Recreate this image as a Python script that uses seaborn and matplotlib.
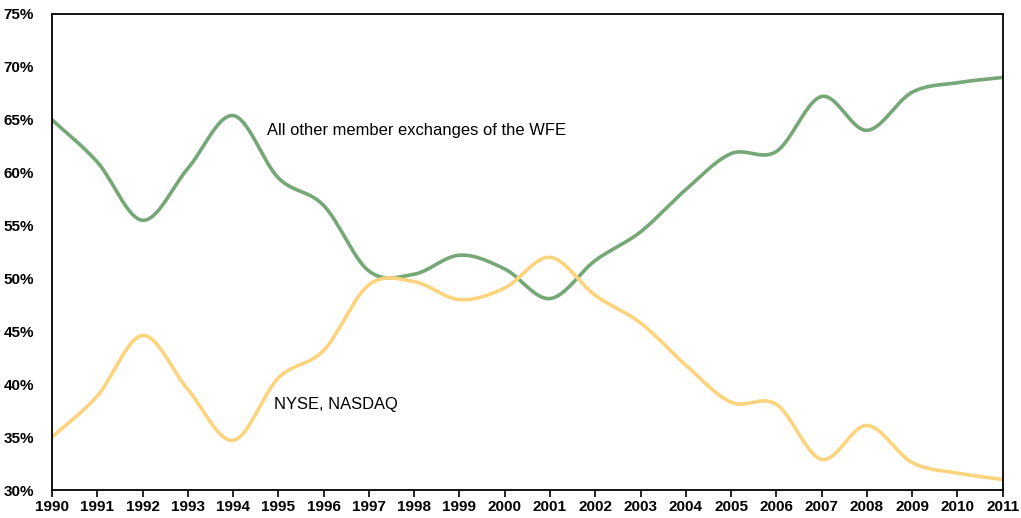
import numpy as np
import pandas as pd
import matplotlib.pyplot as plt
import matplotlib.ticker as mticker
import seaborn as sns

years = list(range(1990, 2012))
other_wfe = [65.0, 61.0, 55.5, 60.4, 65.4, 59.5, 56.9, 50.7, 50.4, 52.2, 50.9,
             48.1, 51.7, 54.4, 58.4, 61.8, 62.0, 67.2, 64.0, 67.6, 68.5, 69.0]
nyse_nasdaq = [35.0, 38.9, 44.6, 39.5, 34.7, 40.6, 43.2, 49.4, 49.7, 48.0, 49.1,
               52.0, 48.4, 45.8, 41.8, 38.3, 38.1, 32.9, 36.1, 32.6, 31.6, 31.0]

labels = ['All other member exchanges of the WFE', 'NYSE, NASDAQ']
colors = ['#76a776', '#fdd47e']


def smooth(x, y, n=40):
    # Catmull-Rom style smoothing like Excel's smoothed line
    x = np.asarray(x, float)
    y = np.asarray(y, float)
    px = np.concatenate([[2 * x[0] - x[1]], x, [2 * x[-1] - x[-2]]])
    py = np.concatenate([[2 * y[0] - y[1]], y, [2 * y[-1] - y[-2]]])
    xs, ys = [], []
    t = np.linspace(0, 1, n, endpoint=False)
    for i in range(1, len(px) - 2):
        p0, p1, p2, p3 = py[i - 1], py[i], py[i + 1], py[i + 2]
        q0, q1, q2, q3 = px[i - 1], px[i], px[i + 1], px[i + 2]
        for arr, (a0, a1, a2, a3) in ((ys, (p0, p1, p2, p3)), (xs, (q0, q1, q2, q3))):
            arr.extend(0.5 * (2 * a1 + (-a0 + a2) * t
                              + (2 * a0 - 5 * a1 + 4 * a2 - a3) * t ** 2
                              + (-a0 + 3 * a1 - 3 * a2 + a3) * t ** 3))
    xs.append(x[-1])
    ys.append(y[-1])
    return np.array(xs), np.array(ys)


frames = []
for name, vals in zip(labels, [other_wfe, nyse_nasdaq]):
    sx, sy = smooth(years, vals)
    frames.append(pd.DataFrame({'year': sx, 'share': sy, 'series': name}))
df = pd.concat(frames, ignore_index=True)

sns.set_style('white')
plt.rcParams['font.family'] = ['Liberation Sans', 'DejaVu Sans']
plt.rcParams['text.color'] = 'black'
plt.rcParams['xtick.color'] = 'black'
plt.rcParams['ytick.color'] = 'black'

fig, ax = plt.subplots(figsize=(10.21, 5.18), dpi=100)
fig.subplots_adjust(left=0.051, right=0.982, top=0.973, bottom=0.054)

sns.lineplot(data=df, x='year', y='share', hue='series', palette=colors,
             linewidth=2.6, sort=False, estimator=None, legend=False, ax=ax)

ax.set_xlim(1990, 2011)
ax.set_ylim(30, 75)
ax.set_xticks(years)
ax.set_yticks(range(30, 80, 5))
ax.yaxis.set_major_formatter(mticker.FuncFormatter(lambda v, p: f'{v:.0f}%'))
for lab in ax.get_xticklabels() + ax.get_yticklabels():
    lab.set_fontweight('bold')
    lab.set_fontsize(11)
ax.tick_params(axis='x', direction='out', length=5, width=1.2, pad=2, bottom=True, color='black')
ax.tick_params(axis='y', length=0, pad=13)
ax.set_xlabel('')
ax.set_ylabel('')
for sp in ax.spines.values():
    sp.set_color('black')
    sp.set_linewidth(1.3)

ax.text(1994.75, 64.0, labels[0], fontsize=11.9, va='center', ha='left')
ax.text(1994.9, 38.1, labels[1], fontsize=11.9, va='center', ha='left')

plt.savefig('out.png', dpi=100)
plt.close()
